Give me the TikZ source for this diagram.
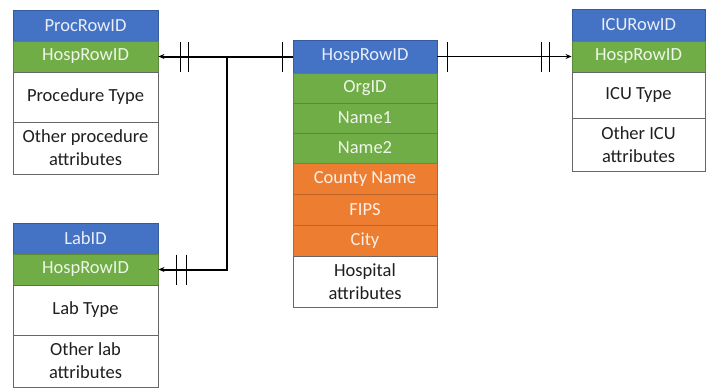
\documentclass[tikz,border=0pt]{standalone}
\usepackage{fontspec}
\setmainfont{Carlito}
\usetikzlibrary{arrows.meta,calc}
\definecolor{hblue}{HTML}{4472C4}
\definecolor{hgreen}{HTML}{70AD47}
\definecolor{horange}{HTML}{ED7D31}
\tikzset{
  cell/.style={rectangle, inner sep=0pt, align=center, line width=0.9pt, font=\fontsize{18.5}{23}\selectfont},
  bluecell/.style={cell, fill=hblue, draw=hblue!80!black, text=white!88!hblue},
  greencell/.style={cell, fill=hgreen, draw=hgreen!80!black, text=white!88!hgreen},
  orangecell/.style={cell, fill=horange, draw=horange!80!black, text=white!88!horange},
  whitecell/.style={cell, fill=white, draw=black!60, text=black!88},
  link/.style={line width=2pt, black},
  thinlink/.style={line width=1.5pt, black},
  tick/.style={line width=1.4pt, black},
  tip/.style={-{Stealth[length=6pt,width=5pt]}}
}
\begin{document}
\begin{tikzpicture}[x=1pt,y=-1pt]
\useasboundingbox (0,0) rectangle (707,388);
% Procedure table
\begin{scope}[every node/.append style={minimum width=145pt}]
\node[bluecell,  minimum height=31pt] (p1) at (85.5,25.5) {ProcRowID};
\node[greencell, minimum height=31pt] (p2) at (85.5,56.5) {HospRowID};
\node[whitecell, minimum height=50pt] (p3) at (85.5,97) {Procedure Type};
\node[whitecell, minimum height=52pt] (p4) at (85.5,148) {Other procedure\\attributes};
% Lab table
\node[bluecell,  minimum height=31pt] (l1) at (85.5,238.5) {LabID};
\node[greencell, minimum height=31pt] (l2) at (85.5,269.5) {HospRowID};
\node[whitecell, minimum height=50pt] (l3) at (85.5,310) {Lab Type};
\node[whitecell, minimum height=52pt] (l4) at (85.5,361) {Other lab\\attributes};
\end{scope}
% Hospital table
\begin{scope}[every node/.append style={minimum width=144pt}]
\node[bluecell,   minimum height=33pt] (h1) at (365,56.5) {HospRowID};
\node[greencell,  minimum height=30pt] (h2) at (365,88) {OrgID};
\node[greencell,  minimum height=30pt] (h3) at (365,118) {Name1};
\node[greencell,  minimum height=30pt] (h4) at (365,148) {Name2};
\node[orangecell, minimum height=31pt] (h5) at (365,178.5) {County Name};
\node[orangecell, minimum height=31pt] (h6) at (365,209.5) {FIPS};
\node[orangecell, minimum height=31pt] (h7) at (365,240.5) {City};
\node[whitecell,  minimum height=51pt] (h8) at (365,281.5) {Hospital\\attributes};
\end{scope}
% ICU table
\begin{scope}[every node/.append style={minimum width=133pt}]
\node[bluecell,  minimum height=32pt] (i1) at (638.5,25) {ICURowID};
\node[greencell, minimum height=31pt] (i2) at (638.5,56.5) {HospRowID};
\node[whitecell, minimum height=46pt] (i3) at (638.5,95) {ICU Type};
\node[whitecell, minimum height=53pt] (i4) at (638.5,144.5) {Other ICU\\attributes};
\end{scope}
% connectors
\coordinate (j) at (227,56.5);
\draw[link] (h1.west) -- (j);
\draw[link,tip] (j) -- (p2.east);
\draw[link,tip] (j) |- (l2.east);
\draw[thinlink,tip] (h1.east) -- (i2.west);
% ticks
\draw[tick] ($(h1.west)+(-10,-15)$) -- ++(0,30);
\draw[tick] ($(p2.east)+(22,-15)$) -- ++(0,30);
\draw[tick] ($(p2.east)+(30,-15)$) -- ++(0,30);
\draw[tick] ($(l2.east)+(18,-15)$) -- ++(0,30);
\draw[tick] ($(l2.east)+(28,-15)$) -- ++(0,30);
\draw[tick] ($(h1.east)+(10,-15)$) -- ++(0,30);
\draw[tick] ($(i2.west)+(-30,-15)$) -- ++(0,30);
\draw[tick] ($(i2.west)+(-22,-15)$) -- ++(0,30);
\end{tikzpicture}
\end{document}
